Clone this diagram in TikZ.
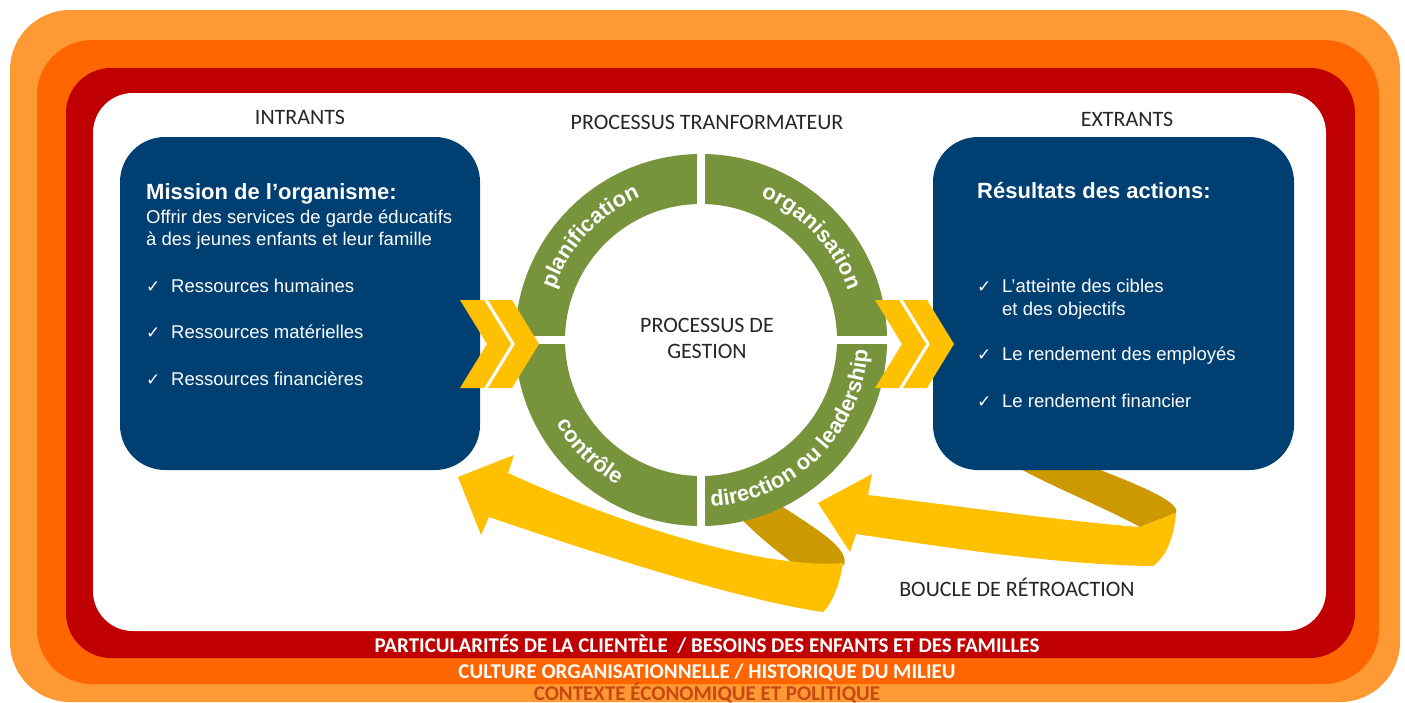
\documentclass[tikz,border=0pt]{standalone}
\usepackage{fontspec}
\setmainfont{Liberation Sans}
\newfontfamily\calfont{Carlito}
\newfontfamily\calbold{Carlito Bold}
\newfontfamily\symfont{DejaVu Sans}
\usetikzlibrary{decorations.text}

\definecolor{bandlight}{RGB}{255,153,51}
\definecolor{bandorange}{RGB}{255,102,0}
\definecolor{bandred}{RGB}{192,0,0}
\definecolor{boxblue}{RGB}{0,63,114}
\definecolor{ringgreen}{RGB}{119,147,60}
\definecolor{gold}{RGB}{255,192,0}
\definecolor{darkgold}{RGB}{204,153,0}
\definecolor{headgray}{RGB}{38,38,38}
\definecolor{contexttext}{RGB}{200,72,20}

\newcommand{\arcfont}{\bfseries\fontsize{22}{22}\selectfont\color{white}}
\tikzstyle{heading} = [font=\calfont\fontsize{22}{24}\selectfont, text=headgray, inner sep=0pt, anchor=base]
\tikzstyle{bandtext} = [font=\calbold\fontsize{21}{24}\selectfont, inner sep=0pt, anchor=base]
\tikzset{boxtitle/.style={font=\bfseries\fontsize{22}{24}\selectfont, text=white, inner sep=0pt, anchor=base west},
  boxtext/.style={font=\fontsize{18.5}{22}\selectfont, text=white, inner sep=0pt, anchor=base west},
  tick/.style={font=\symfont\fontsize{17}{18}\selectfont, text=white, inner sep=0pt, anchor=base west}}

\begin{document}
\begin{tikzpicture}[x=1pt, y=1pt]
\useasboundingbox (0,0) rectangle (1405,-702);
% Draw the context bands
\fill[bandlight, rounded corners=60] (10,-10) rectangle (1400,-702);
\fill[bandorange, rounded corners=55] (37,-40) rectangle (1379,-684);
\fill[bandred, rounded corners=45] (66,-68) rectangle (1355,-658);
\fill[white, rounded corners=40] (93,-93) rectangle (1326,-631);

% Back side of the feedback ribbons
\fill[darkgold] (738,-515) -- (772,-500) .. controls (815,-528) and (850,-548) .. (844,-565)
  -- (807,-575) .. controls (790,-560) and (760,-540) .. cycle;
\fill[darkgold] (1005,-460) -- (1075,-460) .. controls (1120,-478) and (1182,-500) .. (1176,-513)
  -- (1140,-527) .. controls (1100,-505) and (1040,-482) .. cycle;

% Draw the management ring
\fill[ringgreen, even odd rule] (701,-340) circle (186) (701,-340) circle (136);
\draw[white, line width=8] (701,-148) -- (701,-532);
\draw[white, line width=8] (509,-340) -- (893,-340);
\path[decorate, decoration={text along path, text align=center, text={|\arcfont|planification}}]
  (701,-340) ++(180:155) arc[start angle=180, end angle=94, radius=155];
\path[decorate, decoration={text along path, text align=center, text={|\arcfont|organisation}}]
  (701,-340) ++(86:155) arc[start angle=86, end angle=0, radius=155];
\path[decorate, decoration={text along path, text align=center, text={|\arcfont|direction ou leadership}}]
  (701,-340) ++(-90:167) arc[start angle=-90, end angle=0, radius=167];
\path[decorate, decoration={text along path, text align=center, text={|\arcfont|contrôle}}]
  (701,-340) ++(180:167) arc[start angle=180, end angle=270, radius=167];

% Draw the input and output boxes
\fill[boxblue, rounded corners=45] (120,-137) rectangle (480,-470);
\fill[boxblue, rounded corners=45] (933,-137) rectangle (1294,-470);

% Front side of the feedback ribbons
\fill[gold] (458,-477) -- (514,-455) -- (508,-473) .. controls (610,-520) and (760,-570) .. (843,-563)
  .. controls (840,-582) and (833,-603) .. (823,-612)
  .. controls (740,-600) and (600,-555) .. (489,-517) -- (481,-535) -- cycle;
\fill[gold] (818,-503) -- (872,-474) -- (868,-495) .. controls (950,-505) and (1070,-522) .. (1140,-527)
  -- (1176,-513) .. controls (1174,-535) and (1168,-555) .. (1153,-566)
  .. controls (1060,-565) and (950,-548) .. (856,-534) -- (850,-552) -- cycle;

% Chevrons
\foreach \cx in {460,488,875,903}
  \fill[gold] (\cx,-300) -- ++(24,0) -- ++(27,-44) -- ++(-27,-44) -- ++(-24,0) -- ++(27,44) -- cycle;

% Headings
\node[heading] (intrants) at (300,-124) {INTRANTS};
\node[heading] (transfo) at (707,-129) {PROCESSUS TRANFORMATEUR};
\node[heading] (extrants) at (1127,-126) {EXTRANTS};
\node[heading] (gestion1) at (707,-332) {PROCESSUS DE};
\node[heading] (gestion2) at (707,-358) {GESTION};
\node[heading] (boucle) at (1017,-596) {BOUCLE DE RÉTROACTION};

% Left box text
\node[boxtitle] (mission) at (146,-199) {Mission de l’organisme:};
\node[boxtext] (offre1) at (146,-223) {Offrir des services de garde éducatifs};
\node[boxtext] (offre2) at (146,-245) {à des jeunes enfants et leur famille};
\foreach \y/\txt [count=\i] in {292/Ressources humaines, 338/Ressources matérielles, 385/Ressources financières}{
  \node[tick] (ltick\i) at (146,-\y) {✓};
  \node[boxtext] (lres\i) at (171,-\y) {\txt};
}

% Right box text
\node[boxtitle] (resultats) at (977,-198) {Résultats des actions:};
\node[tick] (rtick1) at (977,-292) {✓};
\node[boxtext] (rres1a) at (1002,-292) {L'atteinte des cibles};
\node[boxtext] (rres1b) at (1002,-315) {et des objectifs};
\node[tick] (rtick2) at (977,-360) {✓};
\node[boxtext] (rres2) at (1002,-360) {Le rendement des employés};
\node[tick] (rtick3) at (977,-407) {✓};
\node[boxtext] (rres3) at (1002,-407) {Le rendement financier};

% Context band labels
\node[bandtext, text=white] (clientele) at (707,-652) {PARTICULARITÉS DE LA CLIENTÈLE \ / BESOINS DES ENFANTS ET DES FAMILLES};
\node[bandtext, text=white] (culture) at (707,-678) {CULTURE ORGANISATIONNELLE / HISTORIQUE DU MILIEU};
\node[bandtext, text=contexttext] (contexte) at (707,-700) {CONTEXTE ÉCONOMIQUE ET POLITIQUE};
\end{tikzpicture}
\end{document}
